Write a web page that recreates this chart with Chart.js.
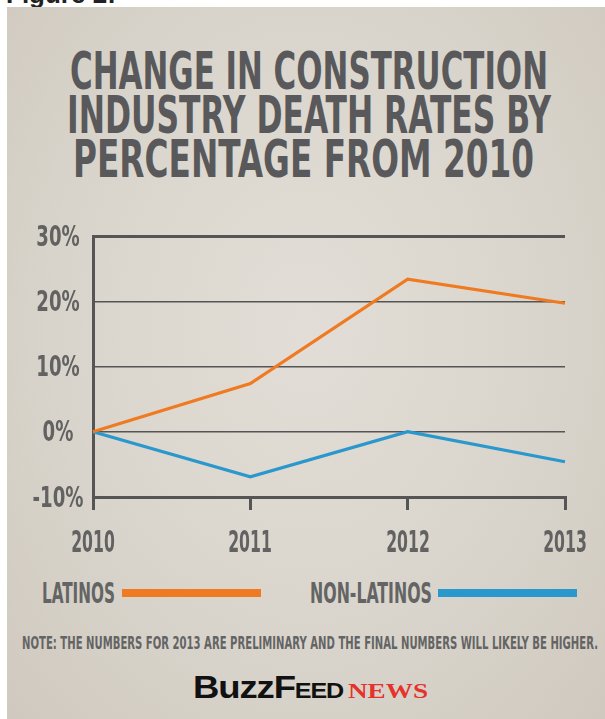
<!DOCTYPE html>
<html>
<head>
<meta charset="utf-8">
<script src="https://cdn.jsdelivr.net/npm/chart.js@4.4.0/dist/chart.umd.min.js"></script>
<style>
  html, body { margin: 0; padding: 0; }
  body { width: 605px; height: 719px; position: relative; overflow: hidden; background: #fff;
         font-family: "DejaVu Sans Condensed", "DejaVu Sans", sans-serif; font-stretch: condensed; }
  .card { position: absolute; left: 7px; top: 7px; right: 0; bottom: 0;
          background: radial-gradient(ellipse at 50% 45%, #e2ded7 0%, #d9d4cb 60%, #cfc9bf 100%); }
  .fig { position: absolute; left: 6px; top: -21px; font: bold 26px "Liberation Sans", Arial, sans-serif; color: #222; }
  .fit { position: absolute; white-space: nowrap; transform-origin: 0 0; line-height: 1; }
  .title { font-weight: bold; font-size: 52px; color: #59595b; }
  .leg { font-weight: bold; font-size: 27.5px; color: #646464; }
  .bar { position: absolute; height: 8px; }
  .note { font-weight: bold; font-size: 18.5px; color: #646464; }
  .logo { font-family: "Liberation Sans", Arial, sans-serif; font-stretch: normal; font-weight: bold; font-size: 32px; color: #111; letter-spacing: -1px; }
  .news { font-family: "Liberation Serif", serif; font-stretch: normal; font-weight: bold; font-size: 22px; color: #e5322b; }
  .tick { position: absolute; white-space: nowrap; line-height: 1; font-weight: bold; color: #626262; transform-origin: 50% 0; }
  canvas { position: absolute; left: 0; top: 0; }
</style>
</head>
<body>
<div class="fig">Figure 2:</div>
<div class="card"></div>

<div class="fit title" data-x="70" data-y="45" data-w="478">CHANGE IN CONSTRUCTION</div>
<div class="fit title" data-x="67" data-y="89" data-w="484">INDUSTRY DEATH RATES BY</div>
<div class="fit title" data-x="73" data-y="133" data-w="461">PERCENTAGE FROM 2010</div>

<div class="fit leg" data-x="42" data-y="580" data-w="73">LATINOS</div>
<div class="bar" style="left:122px; top:589px; width:139px; background:#f07a21;"></div>
<div class="fit leg" data-x="310" data-y="580" data-w="122">NON-LATINOS</div>
<div class="bar" style="left:438px; top:589px; width:139px; background:#2a97cd;"></div>

<div class="fit note" data-x="22" data-y="634" data-w="576">NOTE: THE NUMBERS FOR 2013 ARE PRELIMINARY AND THE FINAL NUMBERS WILL LIKELY BE HIGHER.</div>

<div class="fit logo" data-x="193" data-y="671" data-w="150">Buzz<span>F</span><span style="font-size:22px">EED</span></div>
<div class="fit news" data-x="348" data-y="680" data-w="80">NEWS</div>

<canvas id="chart" width="605" height="719"></canvas>
<div id="ticks"></div>

<script>
const years = ['2010', '2011', '2012', '2013'];
const latinos = [0, 7.4, 23.4, 19.7];
const nonLatinos = [0, -6.9, 0, -4.6];
const yTicks = [-10, 0, 10, 20, 30];

// squeeze each text line to the width it has in the picture
document.querySelectorAll('.fit').forEach(el => {
  el.style.left = el.dataset.x + 'px';
  el.style.top = el.dataset.y + 'px';
  const w = el.getBoundingClientRect().width;
  el.style.transform = `scaleX(${el.dataset.w / w})`;
});

function addTick(box, text, cx, top, size, squeeze) {
  const el = document.createElement('div');
  el.className = 'tick';
  el.textContent = text;
  el.style.fontSize = size + 'px';
  el.style.left = cx + 'px';
  el.style.top = top + 'px';
  el.style.transform = `translateX(-50%) scaleX(${squeeze})`;
  box.appendChild(el);
}

// tick labels as html text, placed from the chart's own scales
const htmlTicks = {
  id: 'htmlTicks',
  afterDraw(chart) {
    const box = document.getElementById('ticks');
    box.innerHTML = '';
    const xs = chart.scales.x, ys = chart.scales.y;
    yTicks.forEach(v => addTick(box, v + '%', 57.5, ys.getPixelForValue(v) - 13.5, 28, 0.72));
    years.forEach((t, i) => addTick(box, t, xs.getPixelForValue(i), chart.chartArea.bottom + 29.5, 30, 0.58));
  }
};

const axisColor = '#555';

new Chart(document.getElementById('chart').getContext('2d'), {
  type: 'line',
  data: {
    labels: years,
    datasets: [
      { label: 'Latinos', data: latinos, borderColor: '#f07a21', borderWidth: 3.2, pointRadius: 0, tension: 0 },
      { label: 'Non-Latinos', data: nonLatinos, borderColor: '#2a97cd', borderWidth: 3.2, pointRadius: 0, tension: 0 }
    ]
  },
  plugins: [htmlTicks],
  options: {
    responsive: false,
    animation: false,
    layout: { padding: { top: 236, left: 0, right: 40, bottom: 169 } },
    plugins: { legend: { display: false }, tooltip: { enabled: false } },
    scales: {
      x: {
        offset: false,
        afterFit: s => { s.height = 53; },
        grid: { drawOnChartArea: false, drawTicks: true, tickLength: 13, color: axisColor, lineWidth: 3 },
        border: { display: true, color: axisColor, width: 3 },
        ticks: { display: false }
      },
      y: {
        min: -10, max: 30,
        afterFit: s => { s.width = 93; },
        afterBuildTicks: s => { s.ticks = yTicks.map(v => ({ value: v })); },
        grid: {
          drawTicks: false,
          color: axisColor,
          lineWidth: c => (c.tick && (c.tick.value === 30 || c.tick.value === -10)) ? 3 : 1.5
        },
        border: { display: true, color: axisColor, width: 3 },
        ticks: { display: false }
      }
    }
  }
});
</script>
</body>
</html>
